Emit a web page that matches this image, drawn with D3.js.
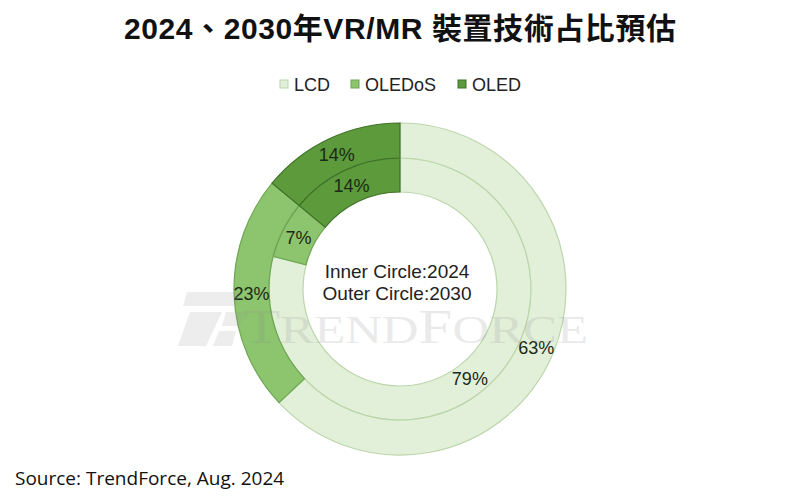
<!DOCTYPE html>
<html>
<head>
<meta charset="utf-8">
<script src="https://cdn.jsdelivr.net/npm/d3@7"></script>
<style>
  body { margin: 0; background: #fff; }
  svg { display: block; }
</style>
</head>
<body>
<script>
const width = 800;
const height = 500;

// data
const categories = ["LCD", "OLEDoS", "OLED"];
const values2024 = [79, 7, 14];   // inner circle
const values2030 = [63, 23, 14];  // outer circle
const colors = ["#e2f0d9", "#8dc46e", "#5c9a3c"];
const strokes = ["#bcd6ab", "#6ea653", "#3f7127"];

const svg = d3.select("body").append("svg")
    .attr("width", width)
    .attr("height", height);

svg.append("text")
    .attr("x", 400)
    .attr("y", 39)
    .attr("text-anchor", "middle")
    .attr("font-family", "'Liberation Sans', 'Noto Sans CJK TC', sans-serif")
    .attr("font-weight", "bold")
    .attr("font-size", 30)
    .attr("fill", "#111")
    .attr("textLength", 552)
    .text("2024、2030年VR/MR 裝置技術占比預估");

// legend
const legendX = [280, 351, 458];
const legend = svg.append("g");
categories.forEach((c, i) => {
    legend.append("rect")
        .attr("x", legendX[i])
        .attr("y", 80)
        .attr("width", 8)
        .attr("height", 8)
        .attr("fill", colors[i])
        .attr("stroke", strokes[i])
        .attr("stroke-width", 1);
    legend.append("text")
        .attr("x", legendX[i] + 14)
        .attr("y", 91)
        .attr("font-family", "'Liberation Sans', Arial, sans-serif")
        .attr("font-size", 18)
        .attr("fill", "#222")
        .text(c);
});

const cx = 400, cy = 289;
const rHole = 97, rMid = 131, rOuter = 166;

const pie = d3.pie().sort(null).value(d => d);
const g = svg.append("g").attr("transform", `translate(${cx},${cy})`);

const rings = [
    { values: values2024, inner: rHole, outer: rMid },
    { values: values2030, inner: rMid, outer: rOuter }
];

rings.forEach(ring => {
    const arc = d3.arc().innerRadius(ring.inner).outerRadius(ring.outer);
    const arcs = pie(ring.values);
    g.selectAll(null)
        .data(arcs)
        .enter()
        .append("path")
        .attr("d", arc)
        .attr("fill", (d, i) => colors[i])
        .attr("stroke", (d, i) => strokes[i])
        .attr("stroke-width", 1.2);
    g.selectAll(null)
        .data(arcs)
        .enter()
        .append("text")
        .attr("transform", d => `translate(${arc.centroid(d)})`)
        .attr("text-anchor", "middle")
        .attr("dy", "0.35em")
        .attr("font-family", "'Liberation Sans', Arial, sans-serif")
        .attr("font-size", 18)
        .attr("fill", "#1a2a14")
        .text(d => d.data + "%");
});

// watermark
const wm = svg.append("g").attr("opacity", 0.17);
wm.append("path")
    .attr("d", "M187,292 L240,292 L236,306 L183,306 Z M190,312 L222,312 L206,346 L178,346 Z M226,312 L244,312 L240,326 L222,326 Z M219,331 L236,331 L232,346 L213,346 Z")
    .attr("fill", "#9a9a9a");
const wmText = wm.append("text")
    .attr("x", 243)
    .attr("y", 343)
    .attr("font-family", "'Liberation Serif', 'DejaVu Serif', serif")
    .attr("font-size", 48)
    .attr("fill", "#8a8a8a")
    .attr("textLength", 345)
    .attr("lengthAdjust", "spacingAndGlyphs");
wmText.append("tspan").text("T");
wmText.append("tspan").attr("font-size", 40).text("REND");
wmText.append("tspan").text("F");
wmText.append("tspan").attr("font-size", 40).text("ORCE");

// centre text
const centre = svg.append("g")
    .attr("font-family", "'Liberation Sans', Arial, sans-serif")
    .attr("font-size", 19)
    .attr("fill", "#222")
    .attr("text-anchor", "middle");
centre.append("text").attr("x", 397).attr("y", 278).text("Inner Circle:2024");
centre.append("text").attr("x", 397).attr("y", 300).text("Outer Circle:2030");

svg.append("text")
    .attr("x", 15)
    .attr("y", 485)
    .attr("font-family", "'Open Sans', 'Noto Sans', sans-serif")
    .attr("font-size", 19)
    .attr("fill", "#111")
    .text("Source: TrendForce, Aug. 2024");
</script>
</body>
</html>
